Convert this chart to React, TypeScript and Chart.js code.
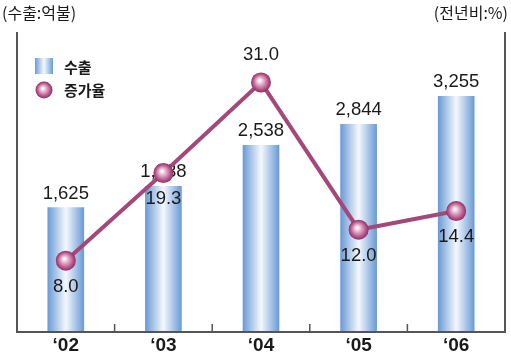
import React, { useEffect, useRef } from "react";
import { Chart, registerables } from "chart.js";

Chart.register(...registerables);

const categories = ["‘02", "‘03", "‘04", "‘05", "‘06"];
const exportValues = [1625, 1938, 2538, 2844, 3255];
const growthValues = [8.0, 19.3, 31.0, 12.0, 14.4];
const growthLabelAbove = [false, false, true, false, false];
const leftUnit = "(수출:억불)";
const rightUnit = "(전년비:%)";
const legendExport = "수출";
const legendGrowth = "증가율";

const NUM_FONT = "'Liberation Sans', Arial, sans-serif";
const KR_FONT = "'Noto Sans CJK KR', sans-serif";
const LINE_COLOR = "#a3497a";

function drawSphere(ctx: CanvasRenderingContext2D, x: number, y: number, r: number) {
  const g = ctx.createRadialGradient(x - r * 0.15, y - r * 0.2, r * 0.05, x, y, r);
  g.addColorStop(0, "#ffffff");
  g.addColorStop(0.3, "#e8b6cf");
  g.addColorStop(0.75, "#b5568a");
  g.addColorStop(1, "#8c2f63");
  ctx.beginPath();
  ctx.arc(x, y, r, 0, Math.PI * 2);
  ctx.fillStyle = g;
  ctx.fill();
}

function barGradient(ctx: CanvasRenderingContext2D, left: number, right: number) {
  const g = ctx.createLinearGradient(left, 0, right, 0);
  g.addColorStop(0, "#6b9bd6");
  g.addColorStop(0.5, "#f4f8fd");
  g.addColorStop(1, "#6b9bd6");
  return g;
}

const decorPlugin = {
  id: "decor",
  afterDatasetDraw(chart: any, args: any) {
    const ctx: CanvasRenderingContext2D = chart.ctx;
    const meta = args.meta;
    ctx.save();
    if (meta.type === "bar") {
      ctx.font = `18.5px ${NUM_FONT}`;
      ctx.fillStyle = "#1a1a1a";
      ctx.textAlign = "center";
      ctx.textBaseline = "alphabetic";
      meta.data.forEach((el: any, i: number) => {
        ctx.fillText(exportValues[i].toLocaleString("en-US"), el.x, el.y - 9);
      });
    } else if (meta.type === "line") {
      meta.data.forEach((el: any) => drawSphere(ctx, el.x, el.y, 10));
      ctx.font = `18.5px ${NUM_FONT}`;
      ctx.fillStyle = "#1a1a1a";
      ctx.textAlign = "center";
      ctx.textBaseline = "middle";
      meta.data.forEach((el: any, i: number) => {
        const dy = growthLabelAbove[i] ? -27 : 26;
        ctx.fillText(growthValues[i].toFixed(1), el.x, el.y + dy);
      });
    }
    ctx.restore();
  },
  afterDraw(chart: any) {
    const ctx: CanvasRenderingContext2D = chart.ctx;
    const a = chart.chartArea;
    const x = chart.scales.x;
    ctx.save();
    ctx.strokeStyle = "#555";
    ctx.lineWidth = 2;
    ctx.beginPath();
    ctx.moveTo(a.left, a.top);
    ctx.lineTo(a.left, a.bottom);
    ctx.lineTo(a.right, a.bottom);
    ctx.lineTo(a.right, a.top);
    ctx.stroke();
    ctx.lineWidth = 1.5;
    for (let i = 0; i < categories.length - 1; i++) {
      const px = (x.getPixelForValue(i) + x.getPixelForValue(i + 1)) / 2;
      ctx.beginPath();
      ctx.moveTo(px, a.bottom);
      ctx.lineTo(px, a.bottom - 8);
      ctx.stroke();
    }
    ctx.fillStyle = "#1a1a1a";
    ctx.font = `bold 19px ${NUM_FONT}`;
    ctx.textAlign = "center";
    ctx.textBaseline = "middle";
    categories.forEach((c, i) => ctx.fillText(c, x.getPixelForValue(i), a.bottom + 14));
    ctx.font = `16px ${KR_FONT}`;
    ctx.textAlign = "left";
    ctx.fillText(leftUnit, 2, 13);
    ctx.textAlign = "right";
    ctx.fillText(rightUnit, 508, 13);
    ctx.fillStyle = barGradient(ctx, 35, 53);
    ctx.fillRect(35, 58, 18, 16);
    drawSphere(ctx, 44, 90, 8.5);
    ctx.fillStyle = "#1a1a1a";
    ctx.font = `bold 15px ${KR_FONT}`;
    ctx.textAlign = "left";
    ctx.fillText(legendExport, 64, 67);
    ctx.fillText(legendGrowth, 64, 90);
    ctx.restore();
  },
};

export default function App() {
  const ref = useRef<HTMLCanvasElement | null>(null);
  useEffect(() => {
    if (!ref.current) return;
    const chart = new Chart(ref.current, {
      type: "bar",
      data: {
        labels: categories,
        datasets: [
          {
            type: "line",
            label: legendGrowth,
            data: growthValues,
            yAxisID: "y1",
            borderColor: LINE_COLOR,
            borderWidth: 4,
            pointRadius: 0,
            tension: 0,
            order: 0,
          } as any,
          {
            type: "bar",
            label: legendExport,
            data: exportValues,
            yAxisID: "y",
            base: -200,
            barThickness: 36,
            borderWidth: 0,
            backgroundColor: (c: any) => {
              const ch = c.chart;
              if (!ch.chartArea || c.dataIndex === undefined) return "#8fb4e3";
              const cx = ch.scales.x.getPixelForValue(c.dataIndex);
              return barGradient(ch.ctx, cx - 18, cx + 18);
            },
            order: 1,
          } as any,
        ],
      },
      options: {
        responsive: false,
        animation: false,
        layout: { padding: { left: 17, right: 6, top: 32, bottom: 24 } },
        plugins: { legend: { display: false }, tooltip: { enabled: false } },
        scales: {
          x: { display: false, offset: true },
          y: { display: false, min: -200, max: 4200 },
          y1: { display: false, min: -1.2, max: 37.5, position: "right" },
        },
      },
      plugins: [decorPlugin],
    });
    return () => chart.destroy();
  }, []);
  return (
    <div style={{ position: "absolute", left: 0, top: 0, width: 511, height: 356, background: "#fff" }}>
      <canvas ref={ref} width={511} height={356} style={{ display: "block" }} />
    </div>
  );
}
